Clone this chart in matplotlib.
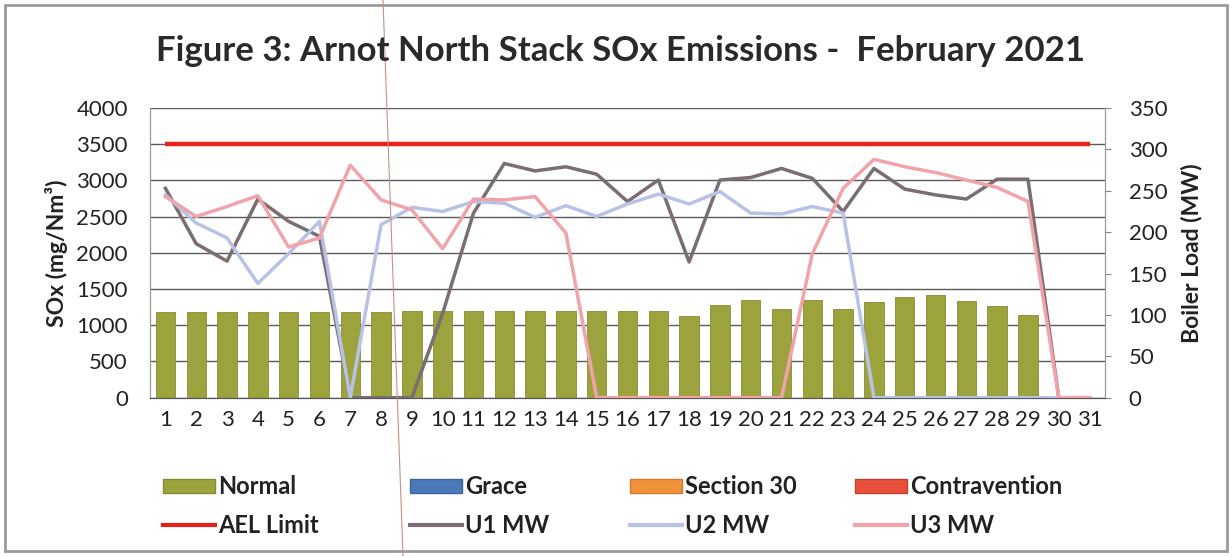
import numpy as np
import matplotlib
matplotlib.use("Agg")
import matplotlib.pyplot as plt
from matplotlib.patches import Patch, Rectangle
from matplotlib.lines import Line2D

plt.rcParams['font.family'] = ['Lato', 'DejaVu Sans']

# ---- data ----
days = list(range(1, 32))
day_labels = [str(d) for d in days]
normal_sox = [1188, 1188, 1188, 1188, 1188, 1188, 1188, 1188, 1195, 1195,
              1195, 1195, 1195, 1195, 1195, 1200, 1200, 1132, 1276, 1345,
              1220, 1345, 1220, 1326, 1395, 1413, 1330, 1262, 1142, 0, 0]
ael_limit = [3500] * 31
u1_mw = [253, 186, 165, 240, 213, 195, 0, 0, 0, 102,
         223, 283, 274, 279, 270, 237, 263, 164, 263, 266,
         277, 265, 225, 277, 252, 245, 240, 264, 264, 0, 0]
u2_mw = [245, 211, 193, 138, 174, 213, 0, 209, 230, 225,
         237, 235, 218, 232, 219, 234, 246, 234, 249, 223,
         222, 231, 223, 0, 0, 0, 0, 0, 0, 0, 0]
u3_mw = [243, 219, 231, 244, 182, 193, 281, 239, 227, 180,
         240, 239, 243, 199, 0, 0, 0, 0, 0, 0,
         0, 174, 253, 288, 279, 272, 263, 254, 237, 0, 0]
left_ticks = [0, 500, 1000, 1500, 2000, 2500, 3000, 3500, 4000]
right_ticks = [0, 50, 100, 150, 200, 250, 300, 350]

title = "Figure 3: Arnot North Stack SOx Emissions -  February 2021"

# ---- colours ----
c_normal = '#9DA33C'
c_grace = '#4A78B8'
c_s30 = '#F0923C'
c_contra = '#E8503A'
c_ael = '#E8201C'
c_u1 = '#7A6E72'
c_u2 = '#B8C2E6'
c_u3 = '#F0A4AA'

W, H = 1232, 556
fig = plt.figure(figsize=(W / 100, H / 100), dpi=100)
fig.patch.set_facecolor('white')

ax = fig.add_axes([150 / W, 1 - 397.7 / H, (1105 - 150) / W, (397.7 - 108) / H])
ax2 = ax.twinx()

ax.set_axisbelow(True)
ax.bar(days, normal_sox, width=0.63, color=c_normal, edgecolor='#858B32', linewidth=0.6, zorder=2)
ax.plot(days, ael_limit, color=c_ael, lw=3.2, solid_capstyle='butt', zorder=3)

ax2.plot(days, u1_mw, color=c_u1, lw=2.5, zorder=3)
ax2.plot(days, u2_mw, color=c_u2, lw=2.5, zorder=3)
ax2.plot(days, u3_mw, color=c_u3, lw=2.5, zorder=4)

ax.set_xlim(0.5, 31.5)
ax.set_ylim(0, 4000)
ax2.set_ylim(0, 350)
ax.set_xticks(days)
ax.set_xticklabels(day_labels)
ax.set_yticks(left_ticks)
ax.set_yticklabels([str(t) for t in left_ticks])
ax2.set_yticks(right_ticks)
ax2.set_yticklabels([str(t) for t in right_ticks])

ax.yaxis.grid(True, color='#5a5a5a', lw=1.0)
ax.xaxis.grid(False)

tick_fs = 16
ax.tick_params(axis='x', length=0, pad=9, labelsize=tick_fs, colors='#222222')
ax.tick_params(axis='y', length=0, pad=16, labelsize=tick_fs, colors='#222222')
ax2.tick_params(axis='y', length=4, width=0.8, color='#888888', direction='out', pad=13,
                labelsize=tick_fs, labelcolor='#222222')

for a in (ax, ax2):
    a.spines['top'].set_visible(False)
    a.spines['left'].set_color('#999999')
    a.spines['right'].set_color('#999999')
    a.spines['bottom'].set_color('#555555')
    a.spines['left'].set_linewidth(0.8)
    a.spines['right'].set_linewidth(0.8)

ax.set_ylabel('SOx (mg/Nm³)', fontsize=16.5, fontweight='bold', color='#222222', labelpad=6)
ax2.set_ylabel('Boiler Load (MW)', fontsize=16.5, fontweight='bold', color='#222222', labelpad=10)

fig.text(620 / W, 1 - 51 / H, title, ha='center', va='center', fontsize=25,
         fontweight='bold', color='#2a2a2a')

# ---- legend: four columns ----
leg_fs = 17
cols = [
    (163, [Patch(facecolor=c_normal, edgecolor='#858B32'), Line2D([], [], color=c_ael, lw=3)],
     ['Normal', 'AEL Limit']),
    (410, [Patch(facecolor=c_grace, edgecolor='#3c64a0'), Line2D([], [], color=c_u1, lw=3)],
     ['Grace', 'U1 MW']),
    (630, [Patch(facecolor=c_s30, edgecolor='#d07a30'), Line2D([], [], color=c_u2, lw=3)],
     ['Section 30', 'U2 MW']),
    (855, [Patch(facecolor=c_contra, edgecolor='#c04030'), Line2D([], [], color=c_u3, lw=3)],
     ['Contravention', 'U3 MW']),
]
for x0, handles, labels in cols:
    lg = fig.legend(handles, labels, loc='center left',
                    bbox_to_anchor=(x0 / W, 1 - 506 / H), ncol=1, frameon=False,
                    fontsize=leg_fs, handlelength=2.2, handleheight=0.55,
                    handletextpad=0.12, labelspacing=0.68, borderpad=0, borderaxespad=0)
    for t in lg.get_texts():
        t.set_fontweight('bold')
        t.set_color('#222222')

# outer chart border
fig.add_artist(Rectangle((5 / W, 5 / H), (W - 10) / W, (H - 10) / H, transform=fig.transFigure,
                         fill=False, edgecolor='#9a9a9a', lw=2))
# faint scan line
fig.add_artist(Line2D([383 / W, 403 / W], [1, 0], transform=fig.transFigure,
                      color='#C89080', lw=0.8))

fig.savefig('out.png', dpi=100, facecolor='white')
